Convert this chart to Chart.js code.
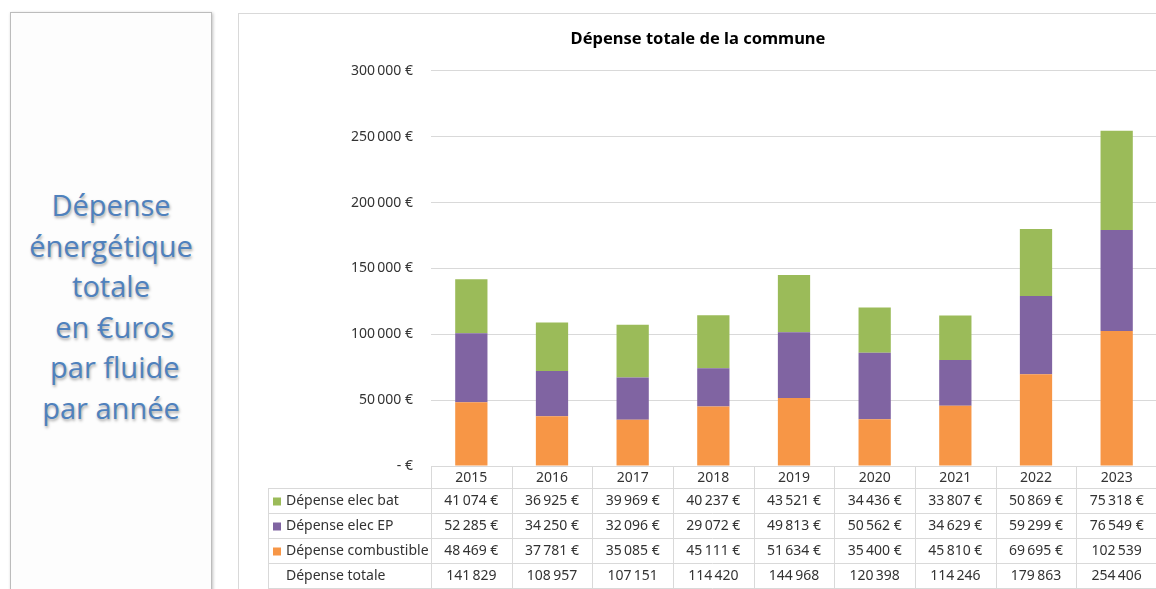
<!DOCTYPE html>
<html lang="fr">
<head>
<meta charset="utf-8">
<title>Dépense totale de la commune</title>
<script src="https://cdn.jsdelivr.net/npm/chart.js@4"></script>
<style>
  html, body { margin: 0; padding: 0; background: #fff; }
  body { width: 1156px; height: 589px; position: relative; overflow: hidden; }
  .side {
    position: absolute; left: 10px; top: 12px; width: 200px; height: 600px;
    border: 1.5px solid #bcbcbc; box-shadow: 1px 1px 3px rgba(0,0,0,0.25);
    background: #fdfdfd;
  }
  .side p {
    position: absolute; left: -10px; right: -10px; top: 172px; margin: 0;
    text-align: center; font-family: "Open Sans", sans-serif; font-size: 29px;
    line-height: 40.6px; color: #4f81bd;
    text-shadow: 1px 2px 3px rgba(0,0,0,0.35);
  }
  .panel {
    position: absolute; left: 238px; top: 13px; width: 918px; height: 576px;
    border-left: 1px solid #d9d9d9; border-top: 1px solid #d9d9d9;
  }
  .panel canvas { position: absolute; left: 0; top: 0; }
</style>
</head>
<body>
<div class="side"><p>Dépense<br>énergétique<br>totale<br>&nbsp;en €uros<br>&nbsp;par fluide<br>par année</p></div>
<div class="panel"><canvas id="chart" width="918" height="576"></canvas></div>
<script>
const years = ['2015', '2016', '2017', '2018', '2019', '2020', '2021', '2022', '2023'];
const elecBat = [41074, 36925, 39969, 40237, 43521, 34436, 33807, 50869, 75318];
const elecEP = [52285, 34250, 32096, 29072, 49813, 50562, 34629, 59299, 76549];
const combustible = [48469, 37781, 35085, 45111, 51634, 35400, 45810, 69695, 102539];
const totale = [141829, 108957, 107151, 114420, 144968, 120398, 114246, 179863, 254406];
const yTicks = [0, 50000, 100000, 150000, 200000, 250000, 300000];

const FONT = '"Noto Sans", sans-serif';
const TEXT = '#333';
const LINE = '#d9d9d9';

function groups(v) {
    return String(v).replace(/\B(?=(\d{3})+(?!\d))/g, '\u202f');
}

function euro(v) {
    // les montants à 6 chiffres sont tronqués dans le tableau d'origine
    return v >= 100000 ? groups(v) : groups(v) + '\u00a0€';
}

// Tableau de données sous le graphique
const dataTable = {
    id: 'dataTable',
    afterDraw(chart) {
        const ctx = chart.ctx;
        const area = chart.chartArea;
        const xs = chart.scales.x;
        const colW = (area.right - area.left) / years.length;
        const headTop = area.bottom;
        const headH = 22;
        const rowH = 25;
        const left = 29;
        const rows = [
            { label: 'Dépense elec bat', color: '#9bbb59', values: elecBat, fmt: euro },
            { label: 'Dépense elec EP', color: '#8064a2', values: elecEP, fmt: euro },
            { label: 'Dépense combustible', color: '#f79646', values: combustible, fmt: euro },
            { label: 'Dépense totale', color: null, values: totale, fmt: groups }
        ];
        const bottom = headTop + headH + rows.length * rowH;

        ctx.save();
        ctx.strokeStyle = LINE;
        ctx.lineWidth = 1;
        ctx.beginPath();
        ctx.moveTo(area.left, headTop + 0.5);
        ctx.lineTo(area.right, headTop + 0.5);
        for (let r = 0; r <= rows.length; r++) {
            const y = Math.round(headTop + headH + r * rowH) + 0.5;
            ctx.moveTo(left, y);
            ctx.lineTo(area.right, y);
        }
        ctx.moveTo(left + 0.5, headTop + headH);
        ctx.lineTo(left + 0.5, bottom);
        for (let i = 0; i <= years.length; i++) {
            const x = Math.round(area.left + i * colW) + 0.5;
            ctx.moveTo(x, headTop);
            ctx.lineTo(x, bottom);
        }
        ctx.stroke();

        ctx.font = '14px ' + FONT;
        ctx.fillStyle = TEXT;
        ctx.textBaseline = 'middle';
        ctx.textAlign = 'center';
        years.forEach((yr, i) => {
            ctx.fillText(yr, xs.getPixelForValue(i), headTop + headH / 2 + 1);
        });

        rows.forEach((row, r) => {
            const cy = headTop + headH + r * rowH + rowH / 2 + 1;
            if (row.color) {
                ctx.fillStyle = row.color;
                ctx.fillRect(left + 5, cy - 4, 8, 8);
            }
            ctx.fillStyle = TEXT;
            ctx.textAlign = 'left';
            ctx.fillText(row.label, left + 18, cy);
            ctx.textAlign = 'center';
            row.values.forEach((v, i) => {
                ctx.fillText(row.fmt(v), xs.getPixelForValue(i), cy);
            });
        });
        ctx.restore();
    }
};

new Chart(document.getElementById('chart'), {
    type: 'bar',
    data: {
        labels: years,
        datasets: [
            { label: 'Dépense combustible', data: combustible, backgroundColor: '#f79646' },
            { label: 'Dépense elec EP', data: elecEP, backgroundColor: '#8064a2' },
            { label: 'Dépense elec bat', data: elecBat, backgroundColor: '#9bbb59' }
        ]
    },
    options: {
        responsive: false,
        animation: false,
        layout: { padding: { left: 0, right: 0, top: 0, bottom: 124 } },
        datasets: { bar: { categoryPercentage: 1, barPercentage: 0.4 } },
        plugins: {
            legend: { display: false },
            tooltip: { enabled: false },
            title: {
                display: true,
                text: 'Dépense totale de la commune',
                color: '#000',
                font: { family: FONT, size: 16.5, weight: 'bold' },
                padding: { top: 15, bottom: 22 }
            }
        },
        scales: {
            x: { stacked: true, display: false },
            y: {
                stacked: true,
                min: 0,
                max: 300000,
                afterBuildTicks: (scale) => { scale.ticks = yTicks.map(v => ({ value: v })); },
                afterFit: (scale) => { scale.width = 192; },
                border: { display: false },
                grid: { color: LINE, drawTicks: false },
                ticks: {
                    padding: 18,
                    color: TEXT,
                    font: { family: FONT, size: 14 },
                    callback: (v) => v === 0 ? '-\u00a0€' : groups(v) + '\u00a0€'
                }
            }
        }
    },
    plugins: [dataTable]
});
</script>
</body>
</html>
